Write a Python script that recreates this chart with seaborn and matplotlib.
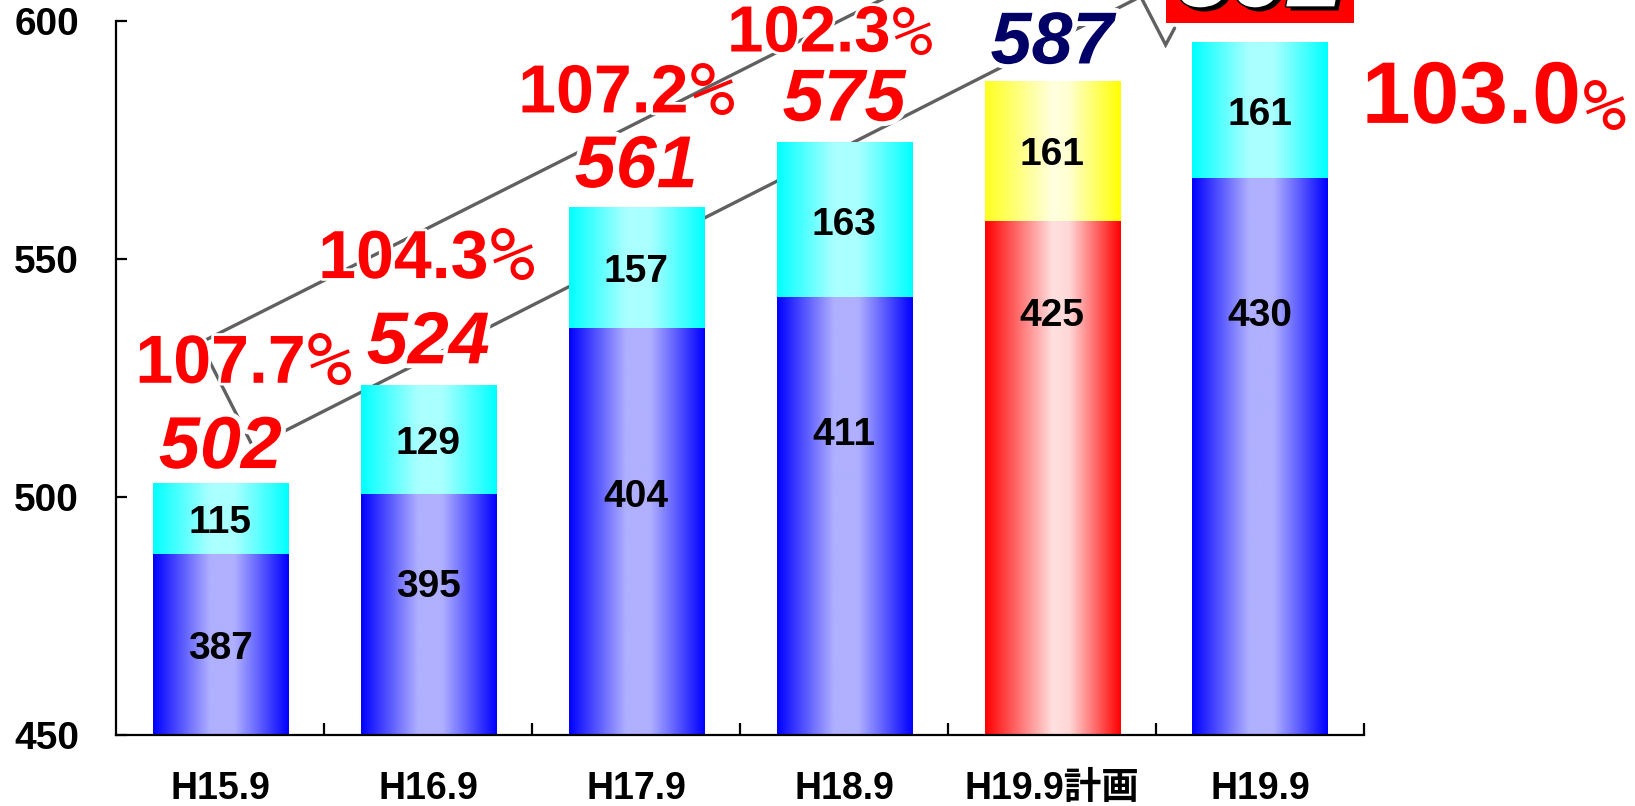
import numpy as np
import pandas as pd
import matplotlib
matplotlib.use("Agg")
import matplotlib.pyplot as plt
import seaborn as sns
from matplotlib.colors import LinearSegmentedColormap
from matplotlib import patheffects as pe
from matplotlib.patches import Rectangle

# ---------------- data ----------------
categories = ["H15.9", "H16.9", "H17.9", "H18.9", "H19.9計画", "H19.9"]
lower_values = [387, 395, 404, 411, 425, 430]
upper_values = [115, 129, 157, 163, 161, 161]
totals = [502, 524, 561, 575, 587, 592]
growth_labels = ["107.7", "104.3", "107.2", "102.3", "103.0"]
y_ticks = [450, 500, 550, 600]
# the source chart uses a broken scale: bar heights
bar_top_on_axis = [503, 523.5, 561, 574.5, 587.5, 595.5]
lower_top_on_axis = [488, 500.6, 535.5, 542, 558, 567]

# ---------------- style ----------------
sns.set_theme(style="white")
plt.rcParams["font.family"] = ["Liberation Sans", "Noto Sans CJK JP", "DejaVu Sans"]

fig = plt.figure(figsize=(16.35, 8.06), dpi=100)
ax = fig.add_axes([0.07125, 0.0881, 0.7630, 0.8858])

df = pd.DataFrame({"cat": categories, "top": bar_top_on_axis,
                   "split": lower_top_on_axis})

sns.barplot(data=df, x="cat", y="top", color="#00ffff", width=0.65,
            errorbar=None, ax=ax, zorder=3)
sns.barplot(data=df, x="cat", y="split", color="#0000ff", width=0.65,
            errorbar=None, ax=ax, zorder=3)

n = len(categories)
top_patches = ax.patches[:n]
bot_patches = ax.patches[n:2 * n]


def cmap_from(stops):
    return LinearSegmentedColormap.from_list("g", stops)


cm_blue = cmap_from([(0, "#0000ff"), (0.42, "#b0b0ff"), (0.6, "#b0b0ff"), (1, "#0000ff")])
cm_cyan = cmap_from([(0, "#00ffff"), (0.42, "#aaffff"), (0.6, "#aaffff"), (1, "#00ffff")])
cm_red = cmap_from([(0, "#ff0000"), (0.5, "#ffe0e0"), (0.62, "#ffd8d8"), (1, "#ff0000")])
cm_yel = cmap_from([(0, "#ffff20"), (0.5, "#ffffe0"), (0.62, "#ffffd0"), (1, "#ffff00")])

YMIN, YMAX = 450, 600
grad = np.linspace(0, 1, 256).reshape(1, -1)


def fill_gradient(patch, y0, y1, cmap, z):
    x0 = patch.get_x()
    w = patch.get_width()
    im = ax.imshow(grad, cmap=cmap, extent=[x0, x0 + w, y0, y1], aspect="auto",
                   origin="lower", zorder=z, interpolation="bicubic")
    im.set_clip_path(patch)
    patch.set_facecolor("none")
    patch.set_edgecolor("none")


for i in range(n):
    plan = categories[i].endswith("計画")
    fill_gradient(top_patches[i], YMIN, bar_top_on_axis[i],
                  cm_yel if plan else cm_cyan, 3.1)
    fill_gradient(bot_patches[i], YMIN, lower_top_on_axis[i],
                  cm_red if plan else cm_blue, 3.2)

# ---------------- axes ----------------
ax.set_xlim(-0.5, n - 0.5)
ax.set_ylim(YMIN, YMAX)
ax.set_yticks(y_ticks)
ax.set_xlabel("")
ax.set_ylabel("")
for s in ["top", "right"]:
    ax.spines[s].set_visible(False)
for s in ["left", "bottom"]:
    ax.spines[s].set_color("black")
    ax.spines[s].set_linewidth(1.6)
    ax.spines[s].set_zorder(5)

ax.set_xticks(np.arange(n) + 0.5, minor=True)
ax.tick_params(axis="x", which="major", bottom=True, length=0, pad=26,
               labelsize=27)
ax.tick_params(axis="x", which="minor", bottom=True, direction="in", length=9,
               width=1.6, color="black")
ax.tick_params(axis="y", which="major", left=True, direction="in", length=8,
               width=1.6, color="black", pad=27, labelsize=28)
for lab in ax.get_xticklabels() + ax.get_yticklabels():
    lab.set_fontweight("bold")
    lab.set_color("black")

# ---------------- decorative arrow outline ----------------
outline_x = [3.43, -0.098, 0.157, 4.645]
outline_y = [610, 532.4, 510.5, 610]
tip_x = [4.41, 4.546, 4.589]
tip_y = [606.5, 595.0, 598.5]
ax.plot(outline_x, outline_y, color="#606060", lw=2.4, zorder=2, clip_on=False,
        solid_joinstyle="miter")
ax.plot(tip_x, tip_y, color="#606060", lw=2.4, zorder=2, clip_on=False,
        solid_joinstyle="miter")

# ---------------- segment labels ----------------
lower_label_y = [468, 481, 500, 513, 538, 538]
for i in range(n):
    ax.text(i, (lower_top_on_axis[i] + bar_top_on_axis[i]) / 2 - 1, str(upper_values[i]),
            ha="center", va="center", fontsize=28, fontweight="bold",
            color="black", zorder=6)
    ax.text(i, lower_label_y[i], str(lower_values[i]), ha="center", va="center",
            fontsize=28, fontweight="bold", color="black", zorder=6)

# ---------------- total labels ----------------
white_halo = [pe.withStroke(linewidth=7, foreground="white")]
for i in range(n - 1):
    col = "#000066" if categories[i].endswith("計画") else "#ff0000"
    ax.annotate(str(totals[i]), xy=(i, totals[i]), xytext=(0, 14),
                textcoords="offset points", ha="center", va="baseline",
                fontsize=53, fontweight="bold", fontstyle="italic", color=col,
                zorder=7, path_effects=white_halo, annotation_clip=False)

# last total: white text in a red box, cut by the top edge
last = n - 1
ax.add_patch(Rectangle((4.55, 599.6), 0.90, 10, facecolor="#ff0000",
                       edgecolor="none", zorder=5, clip_on=False))
ax.annotate(str(totals[last]), xy=(last, totals[last]), xytext=(0, 38),
            textcoords="offset points", ha="center", va="baseline",
            fontsize=72, fontweight="bold", fontstyle="italic", color="white",
            zorder=8, annotation_clip=False,
            path_effects=[pe.withSimplePatchShadow(offset=(3, -3),
                                                    shadow_rgbFace="black",
                                                    alpha=1.0),
                          pe.withStroke(linewidth=2, foreground="black")])

# ---------------- growth-rate labels ----------------
pct_x = [-0.409, 0.47, 1.432, 2.437, 5.49]
pct_y = [524.0, 546.0, 580.8, 593.6, 578.6]
pct_size = [49, 49, 49, 47, 63]
pct_sign_size = [54, 54, 54, 49, 52]
for k, lab in enumerate(growth_labels):
    t = ax.text(pct_x[k], pct_y[k], lab, ha="left", va="baseline",
                fontsize=pct_size[k], fontweight="bold", color="#ff0000",
                zorder=7, clip_on=False,
                path_effects=[pe.withStroke(linewidth=4, foreground="white")])
    ax.annotate("%", xy=(1, 0), xycoords=t, xytext=(1, -3),
                textcoords="offset points", ha="left", va="bottom",
                fontsize=pct_sign_size[k], family="DejaVu Sans Mono",
                color="#ff0000", zorder=7, annotation_clip=False)

fig.savefig("out.png", dpi=100, facecolor="white")
